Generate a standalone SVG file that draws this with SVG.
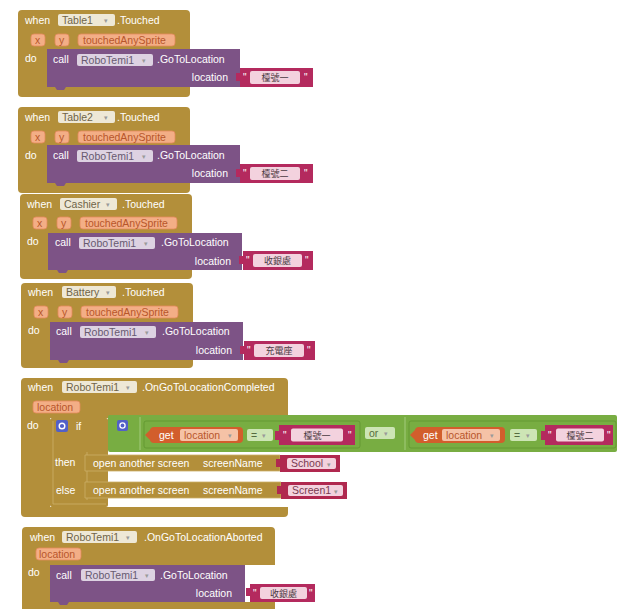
<svg xmlns="http://www.w3.org/2000/svg" width="620" height="609" viewBox="0 0 620 609">
<style>
.ev{fill:#B38F3A}
.evs{fill:#B38F3A;stroke:#CBAE68;stroke-width:0.8}
.pu{fill:#7D5386}
.st{fill:#B42A5E}
.sn{fill:#B0284F}
.lg{fill:#78AD42}
.cmp{fill:#78AD42;stroke:#5F9630;stroke-width:0.8}
.gv{fill:#D25E2C}
.fd{fill:#EEE8D6}
.fp{fill:#DDD2E2}
.fs{fill:#F3D2DE}
.fg{fill:#CDE5B5}
.fo{fill:#F5C2A6}
.pm{fill:#F3AE86;stroke:#E48A5C;stroke-width:0.8}
.gear{fill:#5260C8}
.t{font-family:"Liberation Sans",Arial,sans-serif;font-size:10.5px;fill:#FFFFFF}
.ft{font-family:"Liberation Sans",Arial,sans-serif;font-size:10.5px;fill:#6F6448}
.fpt{font-family:"Liberation Sans",Arial,sans-serif;font-size:10.5px;fill:#675A70}
.pt{font-family:"Liberation Sans",Arial,sans-serif;font-size:10.5px;fill:#B8562B}
.gt{font-family:"Liberation Sans",Arial,sans-serif;font-size:10.5px;fill:#556B40}
.snt{font-family:"Liberation Sans",Arial,sans-serif;font-size:10.5px;fill:#7A3A50}
.q{font-family:"Liberation Sans",Arial,sans-serif;font-size:10px;fill:#FFFFFF}
.ar{font-family:"DejaVu Sans",sans-serif;font-size:7px;fill:#9A9A9A}
.cj{font-family:"Noto Sans CJK TC","Noto Sans CJK SC",sans-serif;font-size:9px;fill:#4A3A42}
.sep{stroke:#A3CB7C;stroke-width:1}
</style>
<rect x="0" y="0" width="620" height="609" fill="#FFFFFF"/>

<g id="table1-touched">
 <rect class="ev" x="18" y="10" width="172" height="87" rx="4"/>
 <text class="t" x="25" y="23.5">when</text>
 <rect class="fd" x="58" y="14" width="57" height="12" rx="2"/>
 <text class="ft" x="62" y="23.5">Table1</text><text class="ar" x="104" y="23">▾</text>
 <text class="t" x="117" y="23.5">.Touched</text>
 <rect class="pm" x="31" y="34" width="14" height="12" rx="3"/><text class="pt" x="35" y="43.5">x</text>
 <rect class="pm" x="55" y="34" width="14" height="12" rx="3"/><text class="pt" x="59" y="43.5">y</text>
 <rect class="pm" x="78" y="34" width="97" height="12" rx="3"/><text class="pt" x="83" y="43.5">touchedAnySprite</text>
 <text class="t" x="25" y="61.5">do</text>
 <g id="table1-call">
  <path class="pu" d="M47,49 H240 V87 H66 l-2,3 h-7 l-2,-3 H47 Z"/>
  <text class="t" x="53" y="63">call</text>
  <rect class="fp" x="77" y="54" width="76" height="12" rx="2"/>
  <text class="fpt" x="81" y="63.5">RoboTemi1</text><text class="ar" x="142" y="63">▾</text>
  <text class="t" x="157" y="63">.GoToLocation</text>
  <text class="t" x="228" y="81" text-anchor="end">location</text>
  <path class="st" d="M240,68 H313 V87 H240 V81 h-4 v-8 h4 Z"/>
  <text class="q" x="243" y="81">"</text>
  <rect class="fs" x="250" y="71" width="50" height="13" rx="2"/>
  <text class="cj" x="275" y="81" text-anchor="middle">檯號一</text>
  <text class="q" x="304" y="81">"</text>
 </g>
</g>

<g id="table2-touched" transform="translate(0,97)">
 <rect class="ev" x="18" y="10" width="172" height="86" rx="4"/>
 <text class="t" x="25" y="23.5">when</text>
 <rect class="fd" x="58" y="14" width="57" height="12" rx="2"/>
 <text class="ft" x="62" y="23.5">Table2</text><text class="ar" x="104" y="23">▾</text>
 <text class="t" x="117" y="23.5">.Touched</text>
 <rect class="pm" x="31" y="34" width="14" height="12" rx="3"/><text class="pt" x="35" y="43.5">x</text>
 <rect class="pm" x="55" y="34" width="14" height="12" rx="3"/><text class="pt" x="59" y="43.5">y</text>
 <rect class="pm" x="78" y="34" width="97" height="12" rx="3"/><text class="pt" x="83" y="43.5">touchedAnySprite</text>
 <text class="t" x="25" y="61.5">do</text>
 <g id="table2-call">
  <path class="pu" d="M47,48 H240 V86 H66 l-2,3 h-7 l-2,-3 H47 Z"/>
  <text class="t" x="53" y="62">call</text>
  <rect class="fp" x="77" y="53" width="76" height="12" rx="2"/>
  <text class="fpt" x="81" y="62.5">RoboTemi1</text><text class="ar" x="142" y="62">▾</text>
  <text class="t" x="157" y="62">.GoToLocation</text>
  <text class="t" x="228" y="80" text-anchor="end">location</text>
  <path class="st" d="M240,67 H313 V86 H240 V80 h-4 v-8 h4 Z"/>
  <text class="q" x="243" y="80">"</text>
  <rect class="fs" x="250" y="70" width="50" height="13" rx="2"/>
  <text class="cj" x="275" y="80" text-anchor="middle">檯號二</text>
  <text class="q" x="304" y="80">"</text>
 </g>
</g>

<g id="cashier-touched" transform="translate(2,184)">
 <rect class="ev" x="18" y="10" width="172" height="85" rx="4"/>
 <text class="t" x="25" y="23.5">when</text>
 <rect class="fd" x="58" y="14" width="57" height="12" rx="2"/>
 <text class="ft" x="62" y="23.5">Cashier</text><text class="ar" x="104" y="23">▾</text>
 <text class="t" x="120" y="23.5">.Touched</text>
 <rect class="pm" x="31" y="33" width="14" height="12" rx="3"/><text class="pt" x="35" y="42.5">x</text>
 <rect class="pm" x="55" y="33" width="14" height="12" rx="3"/><text class="pt" x="59" y="42.5">y</text>
 <rect class="pm" x="78" y="33" width="97" height="12" rx="3"/><text class="pt" x="83" y="42.5">touchedAnySprite</text>
 <text class="t" x="25" y="60.5">do</text>
 <g id="cashier-call">
  <path class="pu" d="M46,49 H240 V86 H66 l-2,3 h-7 l-2,-3 H46 Z"/>
  <text class="t" x="53" y="62">call</text>
  <rect class="fp" x="77" y="53" width="76" height="12" rx="2"/>
  <text class="fpt" x="81" y="62.5">RoboTemi1</text><text class="ar" x="142" y="62">▾</text>
  <text class="t" x="159" y="62">.GoToLocation</text>
  <text class="t" x="229" y="80.5" text-anchor="end">location</text>
  <path class="st" d="M241,67 H311 V86 H241 V80 h-4 v-8 h4 Z"/>
  <text class="q" x="244" y="80">"</text>
  <rect class="fs" x="251" y="70" width="49" height="13" rx="2"/>
  <text class="cj" x="275.5" y="80" text-anchor="middle">收銀處</text>
  <text class="q" x="303" y="80">"</text>
 </g>
</g>

<g id="battery-touched" transform="translate(3,273)">
 <rect class="ev" x="18" y="10" width="172" height="85" rx="4"/>
 <text class="t" x="25" y="23">when</text>
 <rect class="fd" x="59" y="13" width="54" height="12" rx="2"/>
 <text class="ft" x="63" y="22.5">Battery</text><text class="ar" x="103" y="22">▾</text>
 <text class="t" x="119" y="23">.Touched</text>
 <rect class="pm" x="31" y="33" width="14" height="12" rx="3"/><text class="pt" x="35" y="42.5">x</text>
 <rect class="pm" x="55" y="33" width="14" height="12" rx="3"/><text class="pt" x="59" y="42.5">y</text>
 <rect class="pm" x="78" y="33" width="97" height="12" rx="3"/><text class="pt" x="83" y="42.5">touchedAnySprite</text>
 <text class="t" x="25" y="60.5">do</text>
 <g id="battery-call">
  <path class="pu" d="M47,49 H240 V87 H66 l-2,3 h-7 l-2,-3 H47 Z"/>
  <text class="t" x="53" y="62">call</text>
  <rect class="fp" x="77" y="53" width="76" height="12" rx="2"/>
  <text class="fpt" x="81" y="62.5">RoboTemi1</text><text class="ar" x="142" y="62">▾</text>
  <text class="t" x="159" y="62">.GoToLocation</text>
  <text class="t" x="229" y="80.5" text-anchor="end">location</text>
  <path class="st" d="M241,68 H312 V87 H241 V81 h-4 v-8 h4 Z"/>
  <text class="q" x="244" y="81">"</text>
  <rect class="fs" x="251" y="71" width="50" height="13" rx="2"/>
  <text class="cj" x="276" y="81" text-anchor="middle">充電座</text>
  <text class="q" x="304" y="81">"</text>
 </g>
</g>

<g id="completed-event">
 <path class="ev" d="M25,378 H284 q4,0 4,4 V418 H50 V507 H288 V513 q0,4 -4,4 H25 q-4,0 -4,-4 V382 q0,-4 4,-4 Z"/>
 <text class="t" x="28" y="390.5">when</text>
 <rect class="fd" x="62" y="381" width="75" height="12" rx="2"/>
 <text class="ft" x="66" y="390.5">RoboTemi1</text><text class="ar" x="126" y="390">▾</text>
 <text class="t" x="142" y="390.5">.OnGoToLocationCompleted</text>
 <rect class="pm" x="33" y="401" width="47" height="12" rx="3"/><text class="pt" x="37" y="410.5">location</text>
 <text class="t" x="27" y="428.5">do</text>
</g>

<g id="if-block">
 <rect class="ev" x="50" y="418" width="58" height="89" rx="2"/>
 <path d="M53,421 V504 H106 M87,452 V500" fill="none" stroke="#CDB06A" stroke-width="0.8"/>
 <rect class="gear" x="56" y="420" width="12" height="12" rx="2"/>
 <circle cx="62" cy="426" r="2.8" fill="none" stroke="#FFFFFF" stroke-width="1.4"/>
 <text class="t" x="76" y="429.5">if</text>
 <text class="t" x="55" y="465.5">then</text>
 <text class="t" x="56" y="493.5">else</text>
</g>

<g id="or-block">
 <rect class="lg" x="108" y="415" width="509" height="37" rx="2"/>
 <rect class="gear" x="117" y="420" width="11" height="11" rx="2"/>
 <circle cx="122.5" cy="425.5" r="2.6" fill="none" stroke="#FFFFFF" stroke-width="1.3"/>
 <line class="sep" x1="140" y1="417" x2="140" y2="450"/>
 <line class="sep" x1="405" y1="417" x2="405" y2="450"/>
 <rect class="fg" x="365" y="427" width="30" height="12" rx="2"/>
 <text class="gt" x="369" y="436.5">or</text><text class="ar" x="384" y="436">▾</text>
</g>

<g id="compare-1">
 <rect class="cmp" x="144" y="421" width="216" height="27" rx="2"/>
 <rect class="gv" x="150" y="427" width="93" height="16" rx="4"/>
 <path class="gv" d="M151,429 l-6,6 l6,6 Z"/>
 <text class="t" x="159" y="438.5">get</text>
 <rect class="fo" x="180" y="429" width="58" height="12" rx="2"/>
 <text class="pt" x="184" y="438.5">location</text><text class="ar" x="228" y="438">▾</text>
 <rect class="fg" x="247" y="429" width="26" height="12" rx="2"/>
 <text class="gt" x="251" y="438.5">=</text><text class="ar" x="262" y="438">▾</text>
 <path class="st" d="M279,425 H355 V445 H279 V440 h-4 v-9 h4 Z"/>
 <text class="q" x="283" y="438.5">"</text>
 <rect class="fs" x="291" y="428.5" width="52" height="13" rx="2"/>
 <text class="cj" x="317" y="438.5" text-anchor="middle">檯號一</text>
 <text class="q" x="348" y="438.5">"</text>
</g>

<g id="compare-2">
 <rect class="cmp" x="409" y="421" width="207" height="27" rx="2"/>
 <rect class="gv" x="415" y="427" width="90" height="16" rx="4"/>
 <path class="gv" d="M416,429 l-6,6 l6,6 Z"/>
 <text class="t" x="423" y="438.5">get</text>
 <rect class="fo" x="442" y="429" width="58" height="12" rx="2"/>
 <text class="pt" x="446" y="438.5">location</text><text class="ar" x="490" y="438">▾</text>
 <rect class="fg" x="510" y="429" width="27" height="12" rx="2"/>
 <text class="gt" x="514" y="438.5">=</text><text class="ar" x="526" y="438">▾</text>
 <path class="st" d="M545,425 H613 V445 H545 V440 h-4 v-9 h4 Z"/>
 <text class="q" x="548" y="438.5">"</text>
 <rect class="fs" x="556" y="428.5" width="48" height="13" rx="2"/>
 <text class="cj" x="580" y="438.5" text-anchor="middle">檯號二</text>
 <text class="q" x="607" y="438.5">"</text>
</g>

<g id="open-school">
 <path class="evs" d="M85,455 H280 V471 H85 Z"/>
 <text class="t" x="93" y="466.5">open another screen</text>
 <text class="t" x="203" y="466.5">screenName</text>
 <path class="sn" d="M280,455 H340 V472 H280 V467 h-4 v-8 h4 Z"/>
 <rect class="fs" x="287" y="458" width="49" height="11" rx="2"/>
 <text class="snt" x="291" y="467">School</text><text class="ar" x="327" y="467">▾</text>
</g>

<g id="open-screen1">
 <path class="evs" d="M85,482 H281 V498 H85 Z"/>
 <text class="t" x="93" y="493.5">open another screen</text>
 <text class="t" x="203" y="493.5">screenName</text>
 <path class="sn" d="M281,482 H347 V499 H281 V494 h-4 v-8 h4 Z"/>
 <rect class="fs" x="288" y="485" width="55" height="11" rx="2"/>
 <text class="snt" x="292" y="494">Screen1</text><text class="ar" x="334" y="494">▾</text>
</g>

<g id="aborted-event">
 <path class="ev" d="M26,527 H271 q4,0 4,4 V565 H50 V602 H275 V612 H22 V531 q0,-4 4,-4 Z"/>
 <text class="t" x="30" y="540.5">when</text>
 <rect class="fd" x="62" y="531" width="75" height="12" rx="2"/>
 <text class="ft" x="66" y="540.5">RoboTemi1</text><text class="ar" x="126" y="540">▾</text>
 <text class="t" x="144" y="540.5">.OnGoToLocationAborted</text>
 <rect class="pm" x="36" y="548" width="45" height="12" rx="3"/><text class="pt" x="39" y="557.5">location</text>
 <text class="t" x="28" y="575.5">do</text>
</g>

<g id="aborted-call">
 <path class="pu" d="M50,565 H245 V602 H69 l-2,3 h-7 l-2,-3 H50 Z"/>
 <text class="t" x="56" y="578.5">call</text>
 <rect class="fp" x="81" y="569" width="74" height="12" rx="2"/>
 <text class="fpt" x="85" y="578.5">RoboTemi1</text><text class="ar" x="145" y="578">▾</text>
 <text class="t" x="160" y="578.5">.GoToLocation</text>
 <text class="t" x="232" y="596.5" text-anchor="end">location</text>
 <path class="st" d="M250,584 H315 V602 H250 V596 h-4 v-8 h4 Z"/>
 <text class="q" x="253" y="596.5">"</text>
 <rect class="fs" x="260" y="587" width="47" height="12" rx="2"/>
 <text class="cj" x="283.5" y="596.5" text-anchor="middle">收銀處</text>
 <text class="q" x="309" y="596.5">"</text>
</g>
</svg>
